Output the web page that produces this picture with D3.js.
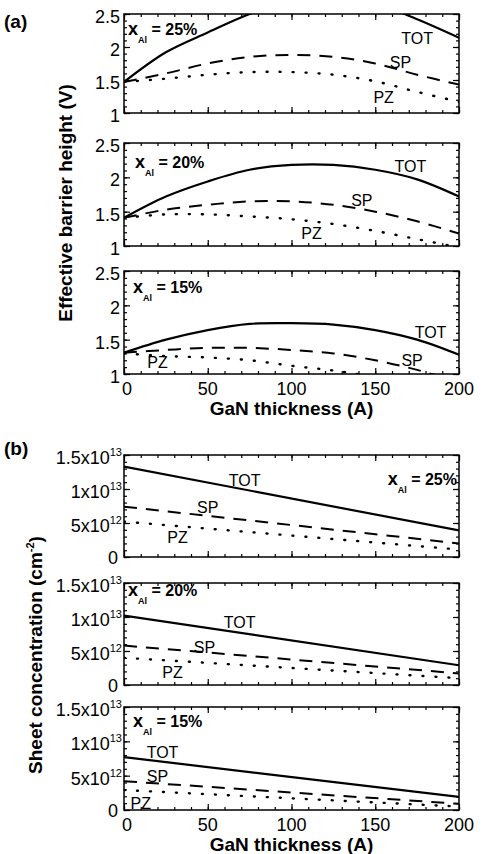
<!DOCTYPE html>
<meta charset="utf-8" />
<title>Barrier height and sheet concentration vs GaN thickness</title>
<style>
  body { margin: 0; background: #fff; }
  svg { display: block; }
  text { font-family: "Liberation Sans", Arial, sans-serif; fill: #000; }
  .frame { fill: none; stroke: #000; stroke-width: 1.5px; }
  .tick line { stroke: #000; stroke-width: 1.2px; }
  .curve { fill: none; stroke: #000; stroke-width: 2px; }
  .TOT { stroke-width: 2.2px; }
  .SP { stroke-dasharray: 13 9; }
  .PZ { stroke-dasharray: 1 12; stroke-linecap: round; stroke-width: 2.4px; }
  .ticklabel { font-size: 18px; }
  .curvelabel { font-size: 16px; }
  .xal { font-size: 16px; font-weight: bold; }
  .title { font-size: 19px; font-weight: bold; }
</style>
<body>
<svg width="481" height="854"></svg>
<script src="https://d3js.org/d3.v7.min.js"></script>
<script>
const svg = d3.select("svg");

// GaN thickness (A)
const thickness = [0, 25, 50, 75, 100, 125, 150, 175, 200];
const xTicks = [0, 50, 100, 150, 200];

// (a) effective barrier height (V)
const tot25 = [1.47, 1.92, 2.22, 2.50, 2.70, 2.74, 2.66, 2.42, 2.14];
const sp25  = [1.47, 1.60, 1.75, 1.85, 1.88, 1.85, 1.75, 1.58, 1.43];
const pz25  = [1.47, 1.52, 1.58, 1.62, 1.62, 1.58, 1.48, 1.32, 1.17];
const tot20 = [1.41, 1.72, 1.94, 2.11, 2.18, 2.18, 2.11, 1.97, 1.72];
const sp20  = [1.41, 1.53, 1.60, 1.65, 1.65, 1.60, 1.50, 1.36, 1.18];
const pz20  = [1.41, 1.46, 1.46, 1.43, 1.39, 1.32, 1.22, 1.10, 0.98];
const tot15 = [1.31, 1.50, 1.64, 1.73, 1.74, 1.72, 1.64, 1.50, 1.28];
const sp15  = [1.31, 1.35, 1.38, 1.38, 1.35, 1.30, 1.20, 1.06, 0.88];
const pz15  = [1.30, 1.26, 1.24, 1.20, 1.12, 1.05, 0.96, 0.86, 0.75];
const barrierTicks = [1, 1.5, 2, 2.5];

// (b) sheet concentration (cm^-2), straight lines between the ends
const sheetX = [0, 200];
const totS25 = [13.3e12, 3.9e12];
const spS25  = [7.4e12, 2.0e12];
const pzS25  = [5.2e12, 1.1e12];
const totS20 = [10.2e12, 2.9e12];
const spS20  = [5.8e12, 1.7e12];
const pzS20  = [4.0e12, 1.0e12];
const totS15 = [7.7e12, 1.9e12];
const spS15  = [4.2e12, 0.9e12];
const pzS15  = [2.9e12, 0.5e12];
const sheetTicks = [0, 5e12, 10e12, 15e12];
const sheetTickLabels = [["0", ""], ["5x10", "12"], ["1x10", "13"], ["1.5x10", "13"]];

const x = d3.scaleLinear().domain([0, 200]).range([124, 459]);

const panels = [
  { top: 14, bottom: 113, kind: "a", xal: "25%", xalPos: [128, 21, "start"], xs: thickness,
    series: { TOT: tot25, SP: sp25, PZ: pz25 },
    labels: { TOT: [175, 2.14], SP: [165, 1.77], PZ: [155, 1.24] } },
  { top: 143, bottom: 246, kind: "a", xal: "20%", xalPos: [135, 25, "start"], xs: thickness,
    series: { TOT: tot20, SP: sp20, PZ: pz20 },
    labels: { TOT: [171, 2.17], SP: [142, 1.67], PZ: [112, 1.19] } },
  { top: 271, bottom: 374, kind: "a", xal: "15%", xalPos: [133, 22, "start"], xs: thickness,
    series: { TOT: tot15, SP: sp15, PZ: pz15 }, xAxis: true,
    labels: { TOT: [183, 1.61], SP: [172, 1.2], PZ: [20, 1.17] } },
  { top: 455, bottom: 557, kind: "b", xal: "25%", xalPos: [457, 30, "end"], xs: sheetX,
    series: { TOT: totS25, SP: spS25, PZ: pzS25 },
    labels: { TOT: [72, 11.3e12], SP: [50, 7.35e12], PZ: [32, 2.9e12] } },
  { top: 583, bottom: 685, kind: "b", xal: "20%", xalPos: [128, 13, "start"], xs: sheetX,
    series: { TOT: totS20, SP: spS20, PZ: pzS20 },
    labels: { TOT: [69, 9.26e12], SP: [48, 5.6e12], PZ: [29, 1.9e12] } },
  { top: 707, bottom: 810, kind: "b", xal: "15%", xalPos: [133, 20, "start"], xs: sheetX,
    series: { TOT: totS15, SP: spS15, PZ: pzS15 }, xAxis: true,
    labels: { TOT: [23, 8.5e12], SP: [20, 4.9e12], PZ: [10, 1.0e12] } }
];

panels.forEach((p, i) => {
  const y = p.kind === "a"
    ? d3.scaleLinear().domain([1, 2.5]).range([p.bottom, p.top])
    : d3.scaleLinear().domain([0, 15e12]).range([p.bottom, p.top]);
  const majors = p.kind === "a" ? barrierTicks : sheetTicks;
  const minors = p.kind === "a" ? d3.range(1, 2.5001, 0.1) : d3.range(0, 15.001e12, 1e12);
  const xMinors = d3.range(0, 201, 10);

  const g = svg.append("g");
  const clipId = "clip" + i;
  g.append("clipPath").attr("id", clipId).append("rect")
    .attr("x", x(0)).attr("y", p.top)
    .attr("width", x(200) - x(0)).attr("height", p.bottom - p.top);

  // ticks inward on all four sides
  const axes = [
    [d3.axisLeft(y).tickValues(majors).tickSize(-6), x(0), 0],
    [d3.axisLeft(y).tickValues(minors).tickSize(-3), x(0), 0],
    [d3.axisRight(y).tickValues(majors).tickSize(-6), x(200), 0],
    [d3.axisRight(y).tickValues(minors).tickSize(-3), x(200), 0],
    [d3.axisBottom(x).tickValues(xTicks).tickSize(-6), 0, p.bottom],
    [d3.axisBottom(x).tickValues(xMinors).tickSize(-3), 0, p.bottom],
    [d3.axisTop(x).tickValues(xTicks).tickSize(-6), 0, p.top],
    [d3.axisTop(x).tickValues(xMinors).tickSize(-3), 0, p.top]
  ];
  axes.forEach(([ax, tx, ty]) => {
    const a = g.append("g").attr("transform", `translate(${tx},${ty})`)
      .call(ax.tickSizeOuter(0).tickFormat(""));
    a.select(".domain").remove();
    a.selectAll("text").remove();
  });

  g.append("rect").attr("class", "frame")
    .attr("x", x(0)).attr("y", p.top)
    .attr("width", x(200) - x(0)).attr("height", p.bottom - p.top);

  // y tick labels
  majors.forEach((v, k) => {
    const t = g.append("text").attr("class", "ticklabel")
      .attr("text-anchor", "end")
      .attr("x", p.kind === "a" ? 120 : (v === 0 ? 118 : 122))
      .attr("y", y(v) + (v === 0 ? 7 : 9));
    if (p.kind === "a") {
      t.text(d3.format("~g")(v));
    } else {
      const [base, exp] = sheetTickLabels[k];
      t.attr("font-size", "17px");
      t.append("tspan").text(base);
      if (exp) t.append("tspan").attr("font-size", "11px").attr("dy", -8).text(exp);
    }
  });

  // curves
  const line = d3.line()
    .x((d, k) => x(p.xs[k]))
    .y(d => y(d))
    .curve(p.kind === "a" ? d3.curveCatmullRom : d3.curveLinear);
  Object.entries(p.series).forEach(([name, vals]) => {
    g.append("path").attr("class", "curve " + name)
      .attr("clip-path", `url(#${clipId})`)
      .attr("d", line(vals));
  });

  // curve labels
  Object.entries(p.labels).forEach(([name, [lx, ly]]) => {
    g.append("text").attr("class", "curvelabel")
      .attr("text-anchor", "middle")
      .attr("x", x(lx)).attr("y", y(ly) + 6)
      .text(name);
  });

  // x_Al annotation
  const [ax, ay, anchor] = p.xalPos;
  const xt = g.append("text").attr("class", "xal")
    .attr("x", ax).attr("y", p.top + ay).attr("text-anchor", anchor);
  xt.append("tspan").attr("font-size", "18px").text("x");
  xt.append("tspan").attr("font-size", "9px").attr("dy", 8).text("Al");
  xt.append("tspan").attr("dy", -8).text(" = " + p.xal);

  // x axis labels and title
  if (p.xAxis) {
    xTicks.forEach(v => {
      g.append("text").attr("class", "ticklabel")
        .attr("text-anchor", "middle")
        .attr("x", x(v) + (v === 0 ? 3 : 0)).attr("y", p.bottom + 21)
        .text(v);
    });
    g.append("text").attr("class", "title")
      .attr("text-anchor", "middle")
      .attr("x", x(100)).attr("y", p.bottom + 41)
      .text("GaN thickness (A)");
  }
});

// y axis titles
svg.append("text").attr("class", "title")
  .attr("font-size", "20px")
  .attr("text-anchor", "middle")
  .attr("transform", "translate(72,203) rotate(-90)")
  .text("Effective barrier height (V)");

const st = svg.append("text").attr("class", "title")
  .attr("font-size", "20px")
  .attr("text-anchor", "middle")
  .attr("transform", "translate(42,655) rotate(-90)");
st.append("tspan").text("Sheet concentration (cm");
st.append("tspan").attr("font-size", "11px").attr("dy", -8).text("-2");
st.append("tspan").attr("dy", 8).text(")");

// panel letters
svg.append("text").attr("class", "title").attr("font-size", "21px")
  .attr("x", 4).attr("y", 28).text("(a)");
svg.append("text").attr("class", "title").attr("font-size", "21px")
  .attr("x", 4).attr("y", 455).text("(b)");
</script>
</body>
